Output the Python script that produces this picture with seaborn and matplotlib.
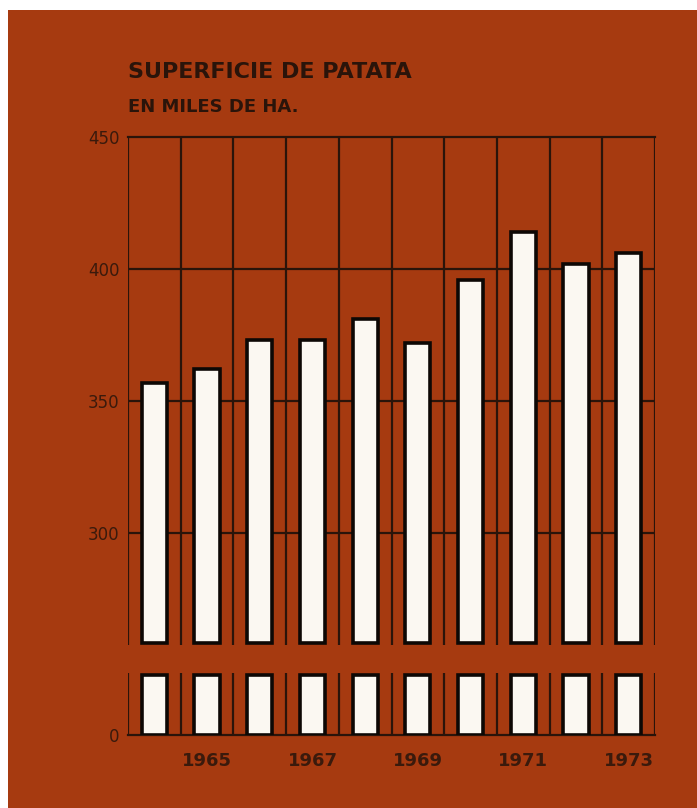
import numpy as np
import pandas as pd
import matplotlib
matplotlib.use("Agg")
import matplotlib.pyplot as plt
from matplotlib.patches import Rectangle
import seaborn as sns

# ---- data ----
years = [1964, 1965, 1966, 1967, 1968, 1969, 1970, 1971, 1972, 1973]
area = [357, 362, 373, 373, 381, 372, 396, 414, 402, 406]   # miles de ha
year_labels = ["", "1965", "", "1967", "", "1969", "", "1971", "", "1973"]
yticks_top = [300, 350, 400, 450]
yticks_bottom = [0]
title = "SUPERFICIE DE PATATA"
subtitle = "EN MILES DE HA."

# ---- style ----
BG = "#A63A10"
INK = "#2a140a"
BAR = "#fbf8f2"
W, H = 697, 808
FONT = ["DejaVu Sans"]

sns.set_style("white")
plt.rcParams["font.family"] = FONT

fig = plt.figure(figsize=(W / 100, H / 100), dpi=100, facecolor="white")
fig.patches.append(Rectangle((8 / W, 0), 1, 1 - 10 / H, transform=fig.transFigure,
                             facecolor=BG, edgecolor="none", zorder=-10))

left, right = 128 / W, 655 / W
top_ax = fig.add_axes([left, 1 - 645 / H, right - left, (645 - 137) / H])
bot_ax = fig.add_axes([left, 1 - 735 / H, right - left, (735 - 673) / H])

top_lo, top_hi = 257.6, 450
top_floor = 258.3
bot_hi = 23.5
bot_cap = 22.7

df = pd.DataFrame({"year": [str(y) for y in years], "area": area})
df["top_part"] = df["area"] - top_floor
df["bot_part"] = np.minimum(df["area"], bot_cap)

bar_kw = dict(color=BAR, edgecolor="#0d0805", linewidth=2.6, width=0.48,
              saturation=1, errorbar=None)

sns.barplot(data=df, x="year", y="top_part", ax=top_ax, bottom=top_floor, zorder=3, **bar_kw)
sns.barplot(data=df, x="year", y="bot_part", ax=bot_ax, zorder=3, **bar_kw)

n = len(years)
for ax in (top_ax, bot_ax):
    ax.set_facecolor("none")
    ax.set_xlim(-0.5, n - 0.5)
    ax.set_xlabel("")
    ax.set_ylabel("")
    for xv in np.arange(-0.5, n, 1.0):
        ax.axvline(xv, color=INK, lw=1.6, zorder=1)
    for s in ax.spines.values():
        s.set_color(INK)
        s.set_linewidth(1.6)
    ax.spines["right"].set_visible(False)
    ax.tick_params(axis="y", length=4, width=1.5, color=INK, labelcolor="#3a1a0c",
                   labelsize=12, pad=2)

top_ax.set_ylim(top_lo, top_hi)
top_ax.set_yticks(yticks_top)
for yv in yticks_top[:-1]:
    top_ax.axhline(yv, color=INK, lw=1.6, zorder=1)
top_ax.spines["bottom"].set_visible(False)
top_ax.spines["left"].set_visible(False)
top_ax.set_xticks([])

bot_ax.set_ylim(0, bot_hi)
bot_ax.set_yticks(yticks_bottom)
bot_ax.spines["top"].set_visible(False)
bot_ax.spines["left"].set_visible(False)
bot_ax.set_xticks(range(n))
bot_ax.set_xticklabels(year_labels)
bot_ax.tick_params(axis="x", length=0, labelsize=13, labelcolor="#3a1a0c", pad=12)

for lab in list(top_ax.get_yticklabels()) + list(bot_ax.get_yticklabels()):
    lab.set_fontweight("normal")
for lab in bot_ax.get_xticklabels():
    lab.set_fontweight("bold")

fig.text(left, 1 - 78 / H, title, fontsize=16, fontweight="bold", color=INK,
         ha="left", va="baseline")
fig.text(left, 1 - 112 / H, subtitle, fontsize=13, fontweight="bold", color=INK,
         ha="left", va="baseline")

fig.savefig("out.png", dpi=100, facecolor="white")
